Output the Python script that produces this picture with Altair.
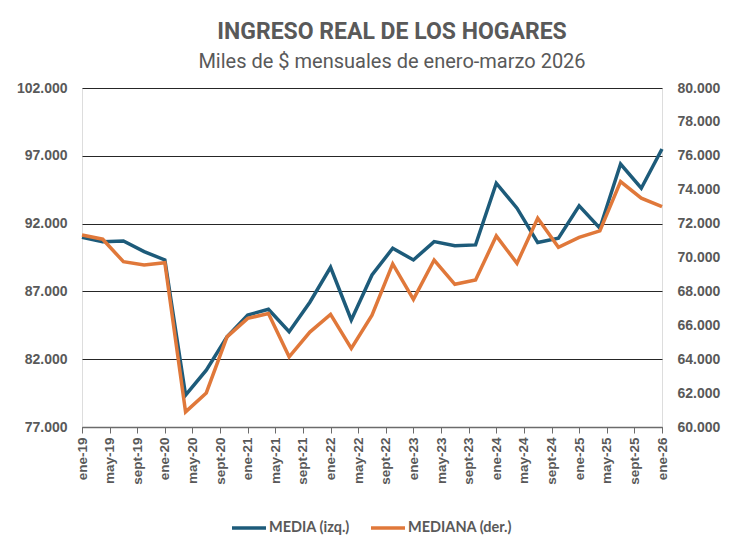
import altair as alt
import pandas as pd

# Quarterly periods, January 2019 to January 2026 (months counted from ene-19)
years = list(range(2019, 2027))
quarter_months = [1, 4, 7, 10]
periods = [f"{y}-{m:02d}" for y in years for m in quarter_months][:29]

# Real household income, thousands of pesos of Jan-Mar 2026
media = [90995, 90670, 90720, 89930, 89320, 79350, 81190, 83650, 85260, 85680,
         84020, 86200, 88780, 84890, 88210, 90180, 89320, 90670, 90370, 90430,
         94980, 93140, 90600, 90920, 93310, 91660, 96390, 94610, 97500]
mediana = [71330, 71080, 69750, 69560, 69690, 60890, 62010, 65320, 66410, 66700,
           64140, 65600, 66640, 64630, 66600, 69620, 67530, 69850, 68420, 68670,
           71270, 69660, 72320, 70600, 71190, 71570, 74480, 73500, 73000]

series_names = ["MEDIA (izq.)", "MEDIANA (der.)"]
series_colors = ["#1d5b7a", "#e0783a"]

left_ticks = [77000, 82000, 87000, 92000, 97000, 102000]
right_ticks = [60000, 62000, 64000, 66000, 68000, 70000, 72000, 74000, 76000, 78000, 80000]
x_ticks = list(range(0, 85, 4))

months = [(int(p[:4]) - 2019) * 12 + int(p[5:]) - 1 for p in periods]
df = pd.DataFrame({"mes": months, "media": media, "mediana": mediana})

grey = "#595959"
thousands = "replace(format(datum.value, ','), ',', '.')"
x_label = ("(datum.value % 12 == 0 ? 'ene' : datum.value % 12 == 4 ? 'may' : 'sept')"
           " + '-' + (19 + floor(datum.value / 12))")

color_scale = alt.Scale(domain=series_names, range=series_colors)

x_enc = alt.X(
    "mes:Q",
    scale=alt.Scale(domain=[0, 84], nice=False, zero=False),
    axis=alt.Axis(
        values=x_ticks, labelExpr=x_label, labelAngle=-90, labelAlign="right",
        labelBaseline="middle", labelFont="Liberation Sans", labelFontWeight="bold",
        labelFontSize=13.5, labelColor=grey, labelPadding=4, tickSize=6,
        tickColor="#6b6b6b", domainColor="#6b6b6b", domainWidth=1.5, grid=False,
        title=None, labelOverlap=False, labelFlush=False,
    ),
)

left = alt.Chart(df).mark_line(strokeWidth=3.5, strokeJoin="miter").encode(
    x=x_enc,
    y=alt.Y(
        "media:Q",
        scale=alt.Scale(domain=[77000, 102000], nice=False, zero=False),
        axis=alt.Axis(
            values=left_ticks, labelExpr=thousands, orient="left", tickSize=0,
            labelPadding=15, labelFont="Liberation Sans", labelFontWeight="bold",
            labelFontSize=14, labelColor=grey, domain=False, grid=True,
            gridColor="#262626", gridWidth=1.2, title=None,
        ),
    ),
    color=alt.Color(
        "serie:N", scale=color_scale,
        legend=alt.Legend(
            orient="none", legendX=148, legendY=421, direction="horizontal",
            title=None, symbolType="stroke", symbolSize=1156, symbolStrokeWidth=3.5,
            labelFont="Lato", labelFontWeight="bold", labelFontSize=14.5,
            labelColor=grey, labelOffset=1, columnPadding=14,
        ),
    ),
).transform_calculate(serie="'MEDIA (izq.)'")

right = alt.Chart(df).mark_line(strokeWidth=3.5, strokeJoin="miter").encode(
    x=x_enc,
    y=alt.Y(
        "mediana:Q",
        scale=alt.Scale(domain=[60000, 80000], nice=False, zero=False),
        axis=alt.Axis(
            values=right_ticks, labelExpr=thousands, orient="right", tickSize=0,
            labelPadding=15, labelFont="Liberation Sans", labelFontWeight="bold",
            labelFontSize=14, labelColor=grey, domain=False, grid=False, title=None,
        ),
    ),
    color=alt.Color("serie:N", scale=color_scale),
).transform_calculate(serie="'MEDIANA (der.)'")

chart = (
    alt.layer(left, right)
    .resolve_scale(y="independent")
    .properties(
        width=580,
        height=339,
        autosize=alt.AutoSizeParams(type="none"),
        padding={"left": 82, "top": 88, "right": 78, "bottom": 109},
        title=alt.TitleParams(
            text="INGRESO REAL DE LOS HOGARES",
            subtitle="Miles de $ mensuales de enero-marzo 2026",
            anchor="middle", dx=20, offset=9,
            font="Roboto", fontSize=23, fontWeight="bold", color=grey,
            subtitleFont="Roboto", subtitleFontSize=20, subtitleColor=grey,
            subtitlePadding=8,
        ),
    )
    .configure_view(stroke="#6b6b6b", strokeWidth=1.5)
    .configure(background="white")
)

chart.save("out.html", embed_options={"renderer": "svg", "actions": False})
